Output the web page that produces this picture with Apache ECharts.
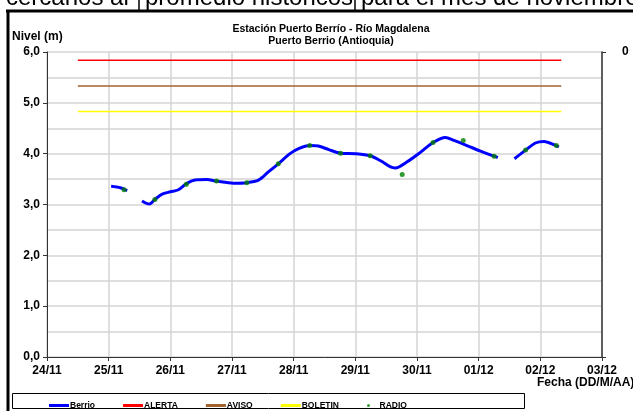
<!DOCTYPE html>
<html>
<head>
<meta charset="utf-8">
<script src="https://cdn.jsdelivr.net/npm/echarts@6/dist/echarts.min.js"></script>
<style>
  html, body { margin: 0; padding: 0; background: #fff; }
  #chart { width: 633px; height: 411px; }
</style>
</head>
<body>
<div id="chart"></div>
<script>
// etiquetas del eje x (dias desde 24/11)
const fechas = ['24/11', '25/11', '26/11', '27/11', '28/11', '29/11', '30/11', '01/12', '02/12', '03/12']

// nivel Berrio (dias, nivel); null = sin dato
const berrioDias = [1.04, 1.19, 1.30, 1.42,
  1.54, 1.66, 1.75, 1.86, 2.00, 2.13, 2.26, 2.40, 2.59, 2.75, 3.02, 3.24, 3.43, 3.59, 3.75, 3.94,
  4.08, 4.26, 4.40, 4.57, 4.76, 5.00, 5.24, 5.41, 5.57, 5.65, 5.84, 6.06, 6.26, 6.46, 6.60, 6.81,
  7.03, 7.25, 7.31, 7.45,
  7.58, 7.76, 7.92, 8.06, 8.25, 8.30]
const berrioNivel = [3.36, 3.33, 3.27, null,
  3.07, 3.01, 3.10, 3.20, 3.25, 3.29, 3.41, 3.48, 3.49, 3.46, 3.42, 3.43, 3.48, 3.64, 3.80, 4.00,
  4.10, 4.16, 4.15, 4.08, 4.01, 4.00, 3.96, 3.86, 3.74, 3.72, 3.84, 4.03, 4.22, 4.32, 4.26, 4.16,
  4.05, 3.95, 3.92, null,
  3.90, 4.07, 4.21, 4.24, 4.16, 4.13]

// lecturas por radio
const radioDias = [1.25, 1.75, 2.26, 2.75, 3.24, 3.75, 4.26, 4.76, 5.24, 5.76, 6.26, 6.75, 7.25, 7.76, 8.26]
const radioNivel = [3.29, 3.10, 3.40, 3.46, 3.43, 3.80, 4.16, 4.01, 3.96, 3.59, 4.22, 4.26, 3.95, 4.07, 4.16]

// umbrales
const umbralDias = [0.5, 8.34]
const alerta = 5.84
const aviso = 5.33
const boletin = 4.83

const FONT = 'Liberation Sans'

const zip = (xs, ys) => xs.map((x, i) => [x, ys[i]])
const umbral = v => umbralDias.map(d => [d, v])

// trozo de texto de la diapositiva, cortado por arriba
const cabecera = (texto, x) => ({
  type: 'text',
  left: x,
  top: -14,
  style: { text: texto, font: '24px "Liberation Sans"', fill: '#000' }
})

const chart = echarts.init(document.getElementById('chart'))

const option = {
  backgroundColor: '#fff',
  animation: false,
  textStyle: { fontFamily: FONT },
  title: {
    text: 'Estación Puerto Berrío - Río Magdalena\nPuerto Berrio (Antioquia)',
    left: 326,
    top: 18,
    textAlign: 'center',
    textStyle: { fontFamily: FONT, fontSize: 10.5, fontWeight: 'bold', color: '#000', lineHeight: 12 }
  },
  grid: { left: 47, right: 31, top: 52, bottom: 54 },
  legend: {
    left: 44,
    top: 396,
    itemGap: 28,
    itemWidth: 20,
    itemHeight: 3,
    textStyle: { fontFamily: FONT, fontSize: 8.5, fontWeight: 'bold', color: '#000', padding: [0, 0, 0, -4] },
    data: [
      { name: 'Berrio', icon: 'rect' },
      { name: 'ALERTA', icon: 'rect' },
      { name: 'AVISO', icon: 'rect' },
      { name: 'BOLETIN', icon: 'rect' },
      { name: 'RADIO', icon: 'circle' }
    ]
  },
  xAxis: {
    type: 'value',
    min: 0,
    max: 9,
    interval: 1,
    axisLine: { lineStyle: { color: '#333', width: 1 } },
    axisTick: { show: true, length: 4, lineStyle: { color: '#333' } },
    axisLabel: {
      margin: 8,
      fontFamily: FONT,
      fontSize: 12,
      fontWeight: 'bold',
      color: '#000',
      formatter: v => fechas[v] || ''
    },
    splitLine: { show: true, lineStyle: { color: '#d4d4d4', width: 1.5 } }
  },
  yAxis: [
    {
      type: 'value',
      min: 0,
      max: 6,
      interval: 1,
      axisLine: { show: true, lineStyle: { color: '#333', width: 1 } },
      axisTick: { show: true, length: 4, lineStyle: { color: '#333' } },
      axisLabel: {
        margin: 7,
        fontFamily: FONT,
        fontSize: 12,
        fontWeight: 'bold',
        color: '#000',
        formatter: v => v.toFixed(1).replace('.', ',')
      },
      splitLine: { show: true, lineStyle: { color: '#d4d4d4', width: 1.5 } },
      minorTick: { show: false, splitNumber: 2 },
      minorSplitLine: { show: true, lineStyle: { color: '#d4d4d4', width: 1.5 } }
    },
    {
      type: 'value',
      position: 'right',
      min: 0,
      max: 6,
      interval: 6,
      axisLine: { show: true, lineStyle: { color: '#333', width: 1.5 } },
      axisTick: { show: true, length: 4, lineStyle: { color: '#333' } },
      axisLabel: {
        margin: 20,
        fontFamily: FONT,
        fontSize: 12,
        fontWeight: 'bold',
        color: '#000',
        formatter: v => (v === 6 ? '0' : '')
      },
      splitLine: { show: false }
    }
  ],
  graphic: [
    cabecera('cercanos al', 6),
    cabecera('promedio históricos', 145),
    cabecera('para el mes de noviembre', 361),
    { type: 'line', shape: { x1: 139, y1: 0, x2: 139, y2: 10 }, style: { stroke: '#000', lineWidth: 1.5 } },
    { type: 'line', shape: { x1: 355, y1: 0, x2: 355, y2: 10 }, style: { stroke: '#000', lineWidth: 1.5 } },
    // marco
    { type: 'line', shape: { x1: 6, y1: 11, x2: 633, y2: 11 }, style: { stroke: '#000', lineWidth: 3 } },
    { type: 'line', shape: { x1: 8, y1: 10, x2: 8, y2: 411 }, style: { stroke: '#000', lineWidth: 3 } },
    // caja de la leyenda
    { type: 'rect', shape: { x: 12.5, y: 393.5, width: 512, height: 15 }, style: { fill: 'none', stroke: '#000', lineWidth: 1 } },
    {
      type: 'text',
      left: 537,
      top: 377,
      style: { text: 'Fecha (DD/M/AA)', font: 'bold 12px "Liberation Sans"', fill: '#000' }
    },
    {
      type: 'text',
      left: 12,
      top: 31,
      style: { text: 'Nivel (m)', font: 'bold 12px "Liberation Sans"', fill: '#000' }
    }
  ],
  series: [
    {
      name: 'ALERTA',
      type: 'line',
      symbol: 'none',
      data: umbral(alerta),
      itemStyle: { color: '#ff0000' },
      lineStyle: { color: '#ff0000', width: 1.5 }
    },
    {
      name: 'AVISO',
      type: 'line',
      symbol: 'none',
      data: umbral(aviso),
      itemStyle: { color: '#a0632e' },
      lineStyle: { color: '#a0632e', width: 1.5 }
    },
    {
      name: 'BOLETIN',
      type: 'line',
      symbol: 'none',
      data: umbral(boletin),
      itemStyle: { color: '#ffff00' },
      lineStyle: { color: '#ffff00', width: 1.5 }
    },
    {
      name: 'Berrio',
      type: 'line',
      symbol: 'none',
      smooth: 0.3,
      connectNulls: false,
      data: zip(berrioDias, berrioNivel),
      itemStyle: { color: '#0000ff' },
      lineStyle: { color: '#0000ff', width: 3 },
      z: 3
    },
    {
      name: 'RADIO',
      type: 'scatter',
      symbol: 'circle',
      symbolSize: 5,
      data: zip(radioDias, radioNivel),
      itemStyle: { color: '#008000' },
      z: 4
    }
  ]
}

chart.setOption(option)
</script>
</body>
</html>
